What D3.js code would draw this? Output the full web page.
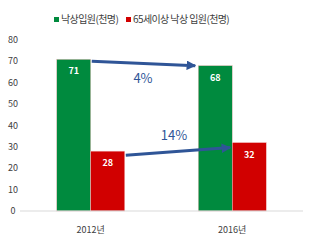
<!DOCTYPE html>
<html>
<head>
<meta charset="utf-8">
<script src="https://cdn.jsdelivr.net/npm/d3@7"></script>
<style>
  body { margin: 0; background: #fff; }
  text { font-family: "Noto Sans CJK KR", "Noto Sans", sans-serif; }
</style>
</head>
<body>
<div class="chart"></div>
<script>
var years = ["2012년", "2016년"];
var series = ["낙상입원(천명)", "65세이상 낙상 입원(천명)"];
var allAges = [71, 68];
var over65 = [28, 32];
var growth = ["4%", "14%"];
var yTicks = [0, 10, 20, 30, 40, 50, 60, 70, 80];

var colors = ["#008a3e", "#d10000"];
var values = [allAges, over65];

var width = 314, height = 248;

var svg = d3.select(".chart").append("svg")
    .attr("width", width)
    .attr("height", height);

var y = d3.scaleLinear().domain([0, 80]).range([211, 40]);

var x0 = d3.scaleBand().domain(years).range([20, 303]);
var x1 = d3.scaleBand().domain(series).range([0, x0.bandwidth()]).paddingOuter(1.08);

// y tick labels (no axis line)
svg.selectAll(".ytick")
    .data(yTicks)
    .enter().append("text")
    .attr("x", 13)
    .attr("y", function(d) { return y(d) + 3; })
    .attr("text-anchor", "middle")
    .style("font-size", "9px")
    .style("fill", "#404040")
    .text(function(d) { return d; });

// bars
series.forEach(function(s, si) {
    svg.selectAll(".bar" + si)
        .data(years)
        .enter().append("rect")
        .attr("x", function(d) { return x0(d) + x1(s); })
        .attr("y", function(d, i) { return y(values[si][i]); })
        .attr("width", x1.bandwidth())
        .attr("height", function(d, i) { return y(0) - y(values[si][i]); })
        .style("fill", colors[si])
        .style("stroke", "#f2c0c0")
        .style("stroke-width", 0.5);

    svg.selectAll(".val" + si)
        .data(years)
        .enter().append("text")
        .attr("x", function(d) { return x0(d) + x1(s) + x1.bandwidth() / 2; })
        .attr("y", function(d, i) { return y(values[si][i]) + 15; })
        .attr("text-anchor", "middle")
        .style("font-size", "9px")
        .style("font-weight", "bold")
        .style("fill", "#fff")
        .text(function(d, i) { return values[si][i]; });
});

// baseline
svg.append("line")
    .attr("x1", 20).attr("x2", 303)
    .attr("y1", y(0)).attr("y2", y(0))
    .style("stroke", "#d9d9d9")
    .style("stroke-width", 1);

// category labels
svg.selectAll(".cat")
    .data(years)
    .enter().append("text")
    .attr("x", function(d) { return x0(d) + x0.bandwidth() / 2; })
    .attr("y", 233)
    .attr("text-anchor", "middle")
    .style("font-size", "9px")
    .style("fill", "#404040")
    .text(function(d) { return d; });

// growth arrows
var defs = svg.append("defs");
defs.append("marker")
    .attr("id", "arrow")
    .attr("viewBox", "0 0 10 10")
    .attr("refX", 9).attr("refY", 5)
    .attr("markerWidth", 3.2).attr("markerHeight", 3.2)
    .attr("orient", "auto")
    .append("path")
    .attr("d", "M0,0 L10,5 L0,10 Z")
    .style("fill", "#2f5597");

var arrowOffsets = [[2, 0, -3], [4, 5, -2]]; // y offset at start, y offset at end, x gap at end
var labelPos = [[143, 83], [174, 140]];

series.forEach(function(s, si) {
    var xs = x0(years[0]) + x1(s) + x1.bandwidth() + 1,
        ys = y(values[si][0]) + arrowOffsets[si][0],
        xe = x0(years[1]) + x1(s) + arrowOffsets[si][2],
        ye = y(values[si][1]) + arrowOffsets[si][1];
    svg.append("line")
        .attr("x1", xs).attr("y1", ys)
        .attr("x2", xe).attr("y2", ye)
        .style("stroke", "#2f5597")
        .style("stroke-width", 3)
        .attr("marker-end", "url(#arrow)");

    svg.append("text")
        .attr("x", labelPos[si][0])
        .attr("y", labelPos[si][1])
        .attr("text-anchor", "middle")
        .style("font-size", "13px")
        .style("fill", "#2f5597")
        .text(growth[si]);
});

// legend
var legendX = [54, 126];
series.forEach(function(s, si) {
    svg.append("rect")
        .attr("x", legendX[si]).attr("y", 17)
        .attr("width", 5).attr("height", 5)
        .style("fill", colors[si]);
    svg.append("text")
        .attr("x", legendX[si] + 7)
        .attr("y", 23)
        .style("font-size", "10px")
        .style("letter-spacing", "-0.6px")
        .style("fill", "#404040")
        .text(s);
});
</script>
</body>
</html>
